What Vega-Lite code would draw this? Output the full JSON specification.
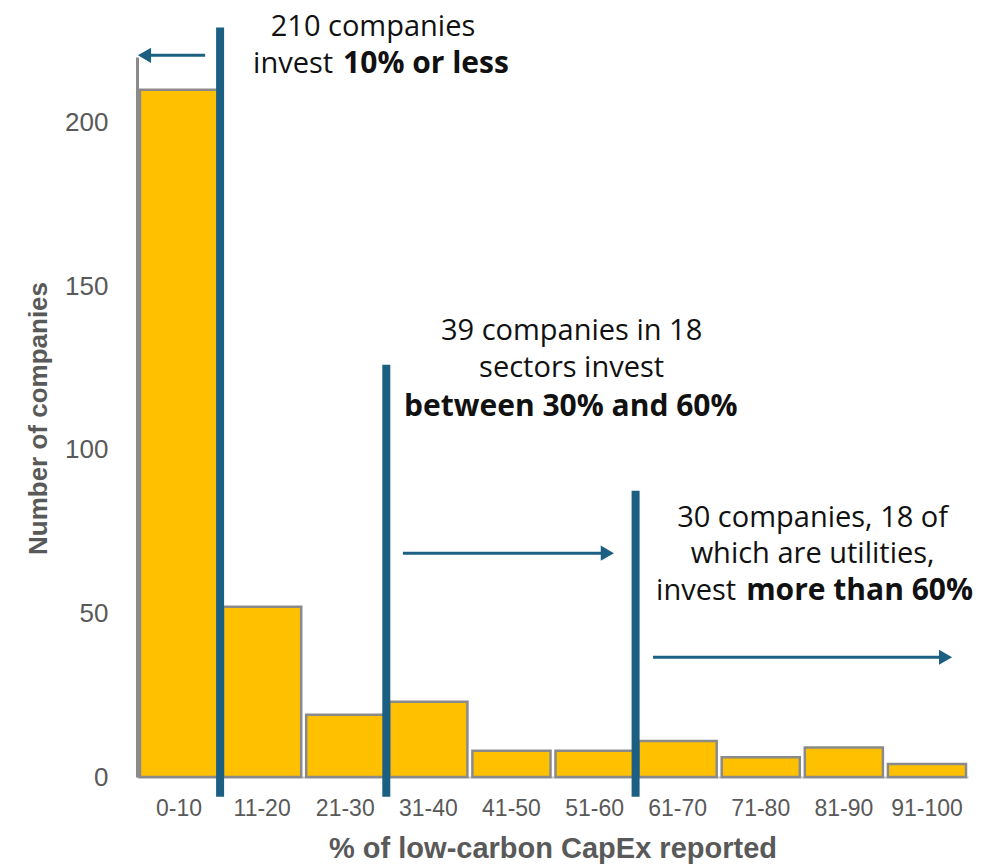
{
  "$schema": "https://vega.github.io/schema/vega-lite/v6.json",
  "width": 831,
  "height": 720,
  "autosize": "none",
  "padding": {"left": 137, "top": 57, "right": 29, "bottom": 87},
  "background": "white",
  "config": {"view": {"stroke": null}},
  "datasets": {
    "bins": [
      {"lo": 0, "hi": 10, "range": "0-10", "companies": 210},
      {"lo": 10, "hi": 20, "range": "11-20", "companies": 52},
      {"lo": 20, "hi": 30, "range": "21-30", "companies": 19},
      {"lo": 30, "hi": 40, "range": "31-40", "companies": 23},
      {"lo": 40, "hi": 50, "range": "41-50", "companies": 8},
      {"lo": 50, "hi": 60, "range": "51-60", "companies": 8},
      {"lo": 60, "hi": 70, "range": "61-70", "companies": 11},
      {"lo": 70, "hi": 80, "range": "71-80", "companies": 6},
      {"lo": 80, "hi": 90, "range": "81-90", "companies": 9},
      {"lo": 90, "hi": 100, "range": "91-100", "companies": 4}
    ],
    "dividers": [
      {"x": 10, "top": 229, "bottom": -6},
      {"x": 30, "top": 126, "bottom": -6},
      {"x": 60, "top": 87.5, "bottom": -6}
    ],
    "shafts": [
      {"from": 8.2, "to": 1.2, "y": 220.5},
      {"from": 32.0, "to": 56.0, "y": 68.4},
      {"from": 62.1, "to": 96.8, "y": 36.6}
    ],
    "heads": [
      {"x": 0.9, "y": 220.5, "dir": "left"},
      {"x": 56.6, "y": 68.4, "dir": "right"},
      {"x": 97.3, "y": 36.6, "dir": "right"}
    ],
    "notes": [
      {"x": 28.4, "y": 229.3, "text": "210 companies", "kind": "center"},
      {"x": 24.2, "y": 218.0, "text": "invest", "kind": "lead"},
      {"x": 24.2, "y": 218.0, "text": "10% or less", "kind": "boldtail"},
      {"x": 52.3, "y": 136.4, "text": "39 companies in 18", "kind": "center"},
      {"x": 52.3, "y": 124.9, "text": "sectors invest", "kind": "center"},
      {"x": 52.2, "y": 113.2, "text": "between 30% and 60%", "kind": "boldcenter"},
      {"x": 81.3, "y": 79.1, "text": "30 companies, 18 of", "kind": "center"},
      {"x": 81.3, "y": 68.1, "text": "which are utilities,", "kind": "center"},
      {"x": 72.7, "y": 56.8, "text": "invest", "kind": "lead"},
      {"x": 72.7, "y": 56.8, "text": "more than 60%", "kind": "boldtail"}
    ]
  },
  "layer": [
    {
      "data": {"name": "bins"},
      "mark": {"type": "bar", "color": "#FFC000", "stroke": "#8a8a8a", "strokeWidth": 2.5, "binSpacing": 5},
      "encoding": {
        "x": {
          "field": "lo", "type": "quantitative", "bin": "binned",
          "scale": {"domain": [0, 100], "nice": false},
          "axis": {
            "values": [5, 15, 25, 35, 45, 55, 65, 75, 85, 95],
            "labelExpr": "datum.value == 5 ? '0-10' : datum.value == 95 ? '91-100' : (datum.value - 4) + '-' + (datum.value + 5)",
            "title": "% of low-carbon CapEx reported",
            "grid": false, "ticks": false,
            "domainColor": "#d0d0d0", "domainWidth": 2.5,
            "labelFont": "Liberation Sans", "labelFontSize": 23, "labelColor": "#595959",
            "labelPadding": 20,
            "titleFont": "Liberation Sans", "titleFontSize": 29, "titleFontWeight": "bold", "titleColor": "#595959",
            "titleBaseline": "middle", "titleY": 71
          }
        },
        "x2": {"field": "hi"},
        "y": {
          "field": "companies", "type": "quantitative",
          "scale": {"domain": [0, 220], "nice": false},
          "axis": {
            "values": [0, 50, 100, 150, 200],
            "title": "Number of companies",
            "grid": false, "ticks": false,
            "domainColor": "#8a8a8a", "domainWidth": 3,
            "labelFont": "Liberation Sans", "labelFontSize": 26, "labelColor": "#595959",
            "labelPadding": 29,
            "titleFont": "Liberation Sans", "titleFontSize": 26, "titleFontWeight": "bold", "titleColor": "#595959",
            "titleAngle": -90, "titleBaseline": "middle", "titleAlign": "center", "titleX": -99, "titleY": 361
          }
        }
      }
    },
    {
      "data": {"name": "dividers"},
      "mark": {"type": "rule", "color": "#1b5f82", "strokeWidth": 8, "clip": false},
      "encoding": {
        "x": {"field": "x", "type": "quantitative"},
        "y": {"field": "top", "type": "quantitative"},
        "y2": {"field": "bottom"}
      }
    },
    {
      "data": {"name": "shafts"},
      "mark": {"type": "rule", "color": "#1b5f82", "strokeWidth": 3, "clip": false},
      "encoding": {
        "x": {"field": "from", "type": "quantitative"},
        "x2": {"field": "to"},
        "y": {"field": "y", "type": "quantitative"}
      }
    },
    {
      "data": {"name": "heads"},
      "mark": {"type": "point", "filled": true, "color": "#1b5f82", "size": 230, "opacity": 1, "clip": false},
      "encoding": {
        "x": {"field": "x", "type": "quantitative"},
        "y": {"field": "y", "type": "quantitative"},
        "shape": {"field": "dir", "type": "nominal", "scale": {"domain": ["left", "right"], "range": ["triangle-left", "triangle-right"]}, "legend": null}
      }
    },
    {
      "data": {"name": "notes"},
      "transform": [{"filter": "datum.kind == 'center'"}],
      "mark": {"type": "text", "font": "Open Sans", "fontSize": 29, "color": "#111111", "align": "center", "baseline": "middle", "clip": false},
      "encoding": {
        "x": {"field": "x", "type": "quantitative"},
        "y": {"field": "y", "type": "quantitative"},
        "text": {"field": "text"}
      }
    },
    {
      "data": {"name": "notes"},
      "transform": [{"filter": "datum.kind == 'boldcenter'"}],
      "mark": {"type": "text", "font": "Open Sans", "fontSize": 30, "fontWeight": "bold", "color": "#111111", "align": "center", "baseline": "middle", "clip": false},
      "encoding": {
        "x": {"field": "x", "type": "quantitative"},
        "y": {"field": "y", "type": "quantitative"},
        "text": {"field": "text"}
      }
    },
    {
      "data": {"name": "notes"},
      "transform": [{"filter": "datum.kind == 'lead'"}],
      "mark": {"type": "text", "font": "Open Sans", "fontSize": 29, "color": "#111111", "align": "right", "baseline": "middle", "dx": -5, "clip": false},
      "encoding": {
        "x": {"field": "x", "type": "quantitative"},
        "y": {"field": "y", "type": "quantitative"},
        "text": {"field": "text"}
      }
    },
    {
      "data": {"name": "notes"},
      "transform": [{"filter": "datum.kind == 'boldtail'"}],
      "mark": {"type": "text", "font": "Open Sans", "fontSize": 30, "fontWeight": "bold", "color": "#111111", "align": "left", "baseline": "middle", "dx": 5, "clip": false},
      "encoding": {
        "x": {"field": "x", "type": "quantitative"},
        "y": {"field": "y", "type": "quantitative"},
        "text": {"field": "text"}
      }
    }
  ]
}
